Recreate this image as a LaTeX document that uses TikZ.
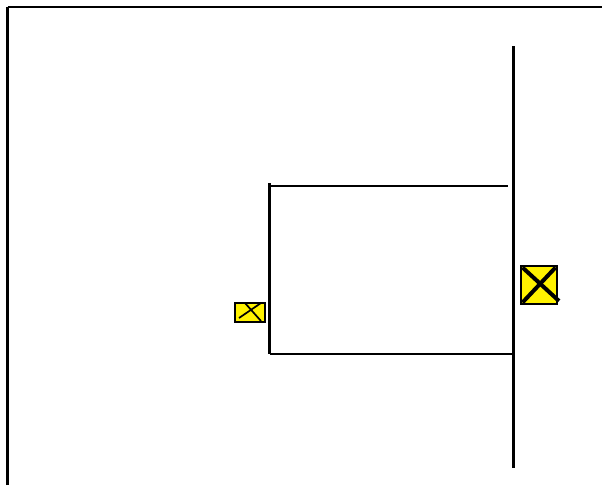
\documentclass[tikz,border=0pt]{standalone}
\tikzset{
  ln/.style={line width=2.3pt,black},
  hl/.style={line width=1.9pt,black},
  bx/.style={draw=black,fill=yellow,line width=2pt,inner sep=0pt,minimum width=#1},
}
\begin{document}
\begin{tikzpicture}[x=1pt,y=-1pt]
\useasboundingbox (0,0) rectangle (602,485);
\coordinate (bl) at (7.5,485);
\coordinate (tl) at (7.5,7);
\coordinate (tr) at (602,7);
\draw[ln] (bl) -- (tl);
\draw[hl] (tl) -- (tr);
\coordinate (mt) at (513.5,46);
\coordinate (mb) at (513.5,468);
\draw[ln] (mt) -- (mb);
\coordinate (lt) at (269.5,183);
\coordinate (lb) at (269.5,354);
\coordinate (rb) at (513.5,354);
\draw[ln] (lt) -- (lb);
\draw[hl] (lb) -- (rb);
\coordinate (ta) at (271,186);
\coordinate (tb) at (508,186);
\draw[hl] (ta) -- (tb);
\node[bx=36pt,minimum height=38pt] (big) at (539,285) {};
\coordinate (b1) at (522.5,267.5);
\coordinate (bt) at (559,301);
\coordinate (b2) at (555.5,267.5);
\coordinate (b3) at (522.5,302.5);
\draw[line width=4pt] (b1) -- (bt);
\draw[line width=4pt] (b2) -- (b3);
\node[bx=30pt,minimum height=19pt] (small) at (250,312) {};
\coordinate (s1) at (239,318);
\coordinate (s2) at (261,303);
\coordinate (s3) at (245,303);
\coordinate (s4) at (261,321);
\draw[line width=1.7pt] (s1) -- (s2);
\draw[line width=1.7pt] (s3) -- (s4);
\end{tikzpicture}
\end{document}
